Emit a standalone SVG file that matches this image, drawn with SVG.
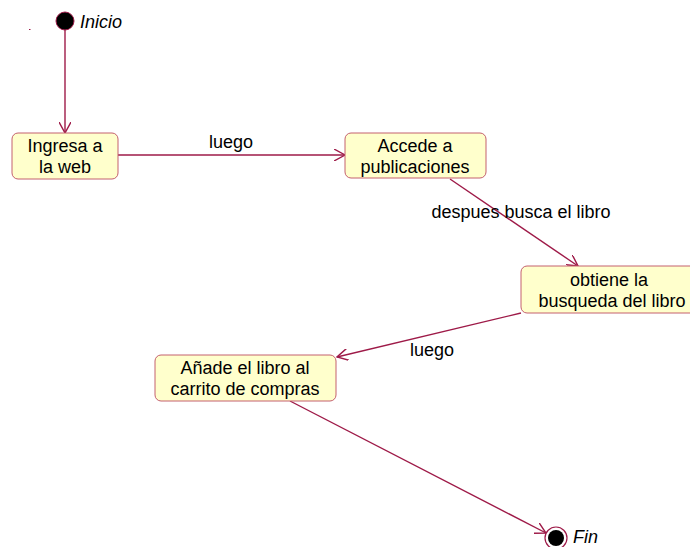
<svg xmlns="http://www.w3.org/2000/svg" width="690" height="547" viewBox="0 0 690 547">
  <style>
    .state { fill: #FFFFCC; stroke: #C4606E; stroke-width: 1; }
    .label { font-family: "Liberation Sans", Arial, sans-serif; font-size: 18px; fill: #000; text-anchor: middle; }
    .edge { stroke: #9E1A48; stroke-width: 1.4; fill: none; marker-end: url(#open); }
    .pseudo { font-family: "Liberation Sans", Arial, sans-serif; font-size: 18px; font-style: italic; fill: #000; }
  </style>
  <defs>
    <marker id="open" viewBox="0 0 12 12" refX="11" refY="6" markerWidth="12" markerHeight="12" markerUnits="userSpaceOnUse" orient="auto">
      <path d="M0,0 L11,6 L0,12" fill="none" stroke="#9E1A48" stroke-width="1.4"/>
    </marker>
  </defs>

  <rect width="690" height="547" fill="#FFFFFF"/>

  <!-- stray mark -->
  <rect x="29" y="29" width="1.5" height="1" fill="#9E1A48"/>

  <g id="connectors">
    <line class="edge" x1="65" y1="30" x2="65" y2="133"/>
    <line class="edge" x1="118" y1="155" x2="345" y2="155"/>
    <line class="edge" x1="450" y1="179" x2="578" y2="266"/>
    <line class="edge" x1="521" y1="313" x2="337" y2="357"/>
    <line class="edge" x1="290" y1="401" x2="546" y2="533"/>
    <text class="label" x="231" y="148">luego</text>
    <text class="label" x="521" y="218">despues busca el libro</text>
    <text class="label" x="432" y="356">luego</text>
  </g>

  <g id="inicio">
    <circle cx="65" cy="21" r="9" fill="#000" stroke="#9E1A48" stroke-width="1"/>
    <text class="pseudo" x="80" y="28">Inicio</text>
  </g>

  <g id="ingresa">
    <rect class="state" x="12" y="133" width="106" height="46" rx="6"/>
    <text class="label" x="65" y="152">Ingresa a</text>
    <text class="label" x="65" y="173">la web</text>
  </g>

  <g id="accede">
    <rect class="state" x="345" y="133" width="141" height="45" rx="6"/>
    <text class="label" x="415" y="152">Accede a</text>
    <text class="label" x="415" y="173">publicaciones</text>
  </g>

  <g id="obtiene">
    <rect class="state" x="521" y="266" width="175" height="47" rx="6"/>
    <text class="label" x="609" y="286">obtiene la</text>
    <text class="label" x="612" y="307">busqueda del libro</text>
  </g>

  <g id="anade">
    <rect class="state" x="155" y="355" width="181" height="46" rx="6"/>
    <text class="label" x="245" y="374">Añade el libro al</text>
    <text class="label" x="245" y="395">carrito de compras</text>
  </g>

  <g id="fin">
    <circle cx="556" cy="538" r="11" fill="#FFFFFF" stroke="#9E1A48" stroke-width="1.2"/>
    <circle cx="556" cy="538" r="8" fill="#000"/>
    <text class="pseudo" x="573" y="543">Fin</text>
  </g>
</svg>
